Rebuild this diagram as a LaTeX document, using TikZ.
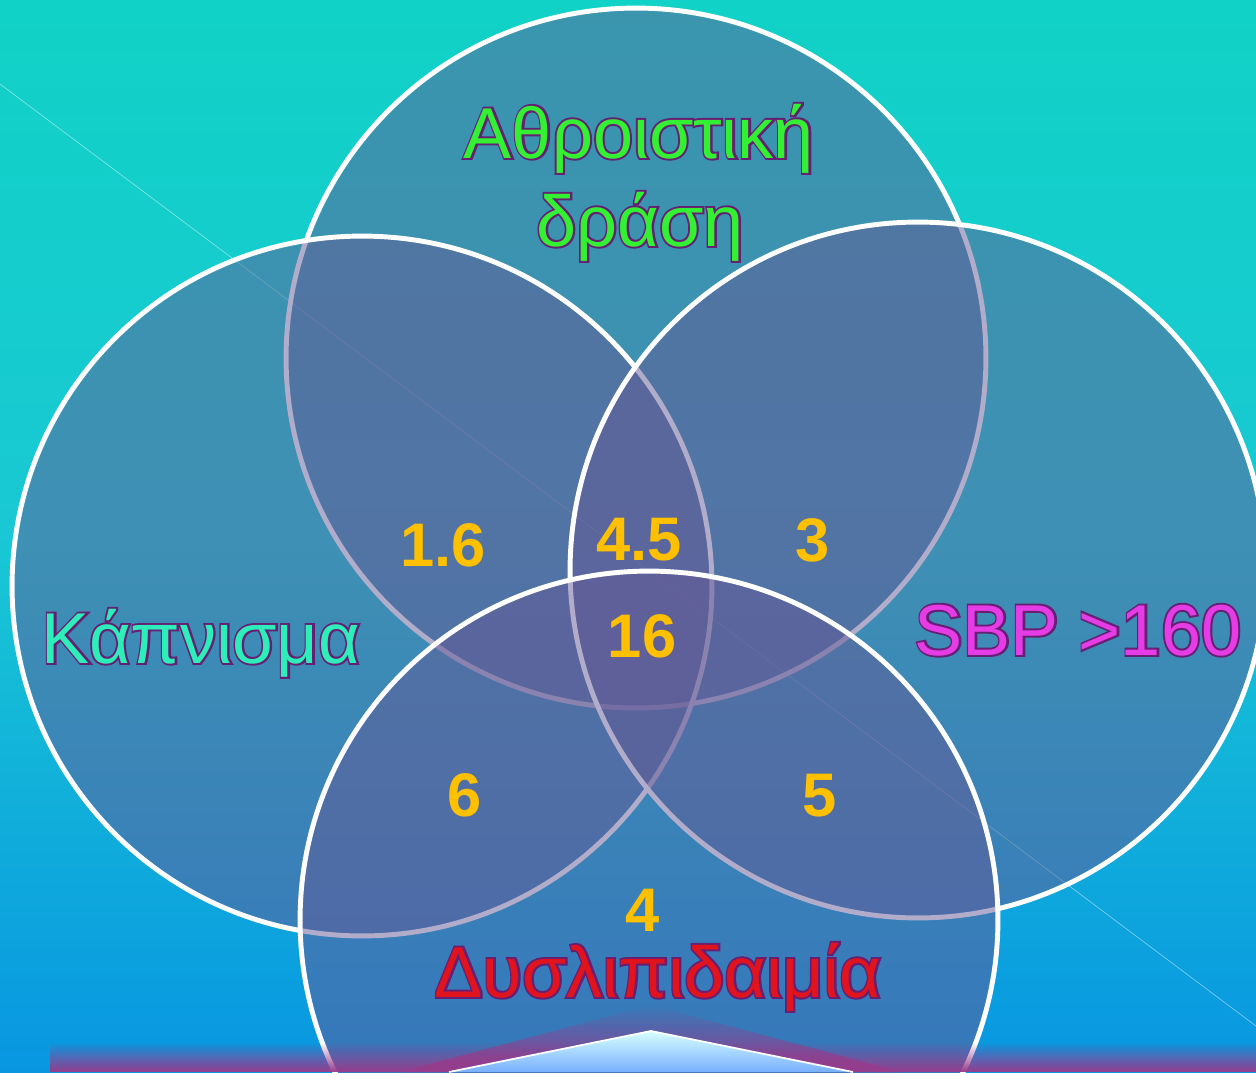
\documentclass[tikz,border=0pt]{standalone}
\usepackage{fontspec}
\setmainfont{Liberation Sans}
\usetikzlibrary{fadings}
\definecolor{skytop}{RGB}{12,213,182}
\definecolor{skyhigh}{RGB}{15,212,195}
\definecolor{skymid}{RGB}{25,200,212}
\definecolor{skylow}{RGB}{8,150,225}
\definecolor{skybot}{RGB}{0,115,212}
\definecolor{ringfill}{RGB}{100,90,150}
\definecolor{numgold}{RGB}{255,192,0}
\definecolor{sumgreen}{RGB}{51,240,51}
\definecolor{smokegreen}{RGB}{45,238,185}
\definecolor{sbpmag}{RGB}{230,60,230}
\definecolor{lipidred}{RGB}{225,20,30}
\definecolor{glowpurple}{RGB}{150,60,140}
\definecolor{chevtop}{RGB}{215,255,255}
\definecolor{chevbot}{RGB}{120,175,255}
\pgfdeclareverticalshading{skyshade}{100bp}{color(0bp)=(skybot); color(25bp)=(skylow);
  color(50bp)=(skymid); color(80bp)=(skyhigh); color(100bp)=(skytop)}
% outlined lettering: dark purple rim under the filled letters
\newcommand{\rimtext}[1]{\rlap{\special{pdf:literal direct 1 Tr 2.2 w 0.4 0.12 0.45 RG}#1\special{pdf:literal direct 0 Tr}}#1}

\begin{document}
\begin{tikzpicture}[x=0.02cm,y=-0.02cm,
   ring/.style={circle,draw=white,line width=2.8pt,fill=ringfill,fill opacity=.5,inner sep=0pt},
   title/.style={anchor=base,font=\fontsize{41}{41}\selectfont},
   val/.style={anchor=base,text=numgold,font=\fontsize{35}{35}\selectfont\bfseries}]
  \useasboundingbox (0,0) rectangle (1256,1072);
  \clip (0,0) rectangle (1256,1072);
  % background
  \shade[shading=skyshade] (0,0) rectangle (1256,1072);
  \draw[white,opacity=.45,line width=.4pt] (0,84) -- (1256,1026);
  % the four sets
  \node[ring,minimum size=14cm]    (sum)   at (636,358) {};
  \node[ring,minimum size=14cm]    (smoke) at (362,586) {};
  \node[ring,minimum size=13.92cm] (sbp)   at (918,570) {};
  \node[ring,minimum size=13.96cm] (lipid) at (649,920) {};
  % glow at the foot
  \fill[glowpurple,path fading=north] (50,1042) rectangle (1256,1072);
  \fill[glowpurple,path fading=north] (400,1072) -- (651,1005) -- (902,1072) -- cycle;
  \shade[top color=chevtop,bottom color=chevbot] (449,1072) -- (651,1031) -- (853,1072) -- cycle;
  \draw[white,line width=1pt] (449,1072) -- (651,1031) -- (853,1072);
  % set names
  \node[title,text=sumgreen]   (sumA)   at (639,158)  {\rimtext{Αθροιστική}};
  \node[title,text=sumgreen]   (sumB)   at (640,246)  {\rimtext{δράση}};
  \node[title,text=smokegreen] (smokeL) at (201,663)  {\rimtext{Κάπνισμα}};
  \node[title,text=sbpmag]     (sbpL)   at (1078,655) {\rimtext{SBP >160}};
  \node[title,text=lipidred]   (lipidL) at (658,997)  {\rimtext{Δυσλιπιδαιμία}};
  % values
  \node[val] (v16a) at (443,566) {1.6};
  \node[val] (v45)  at (639,560) {4.5};
  \node[val] (v3)   at (813,561) {3};
  \node[val] (v16)  at (642,657) {16};
  \node[val] (v6)   at (465,816) {6};
  \node[val] (v5)   at (820,816) {5};
  \node[val] (v4)   at (643,931) {4};
\end{tikzpicture}
\end{document}
